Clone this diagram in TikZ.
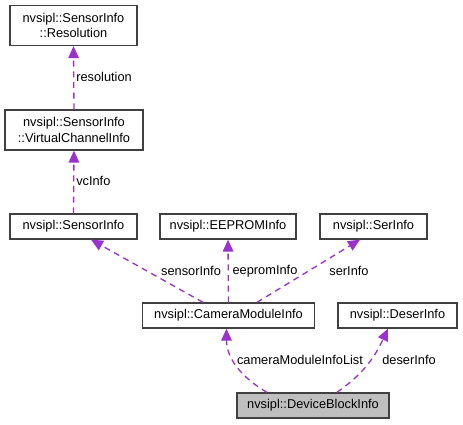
\documentclass[tikz,border=0pt]{standalone}
\usepackage{fontspec}
\setmainfont{Liberation Sans}
\usetikzlibrary{calc,positioning,arrows.meta}

\definecolor{edgepurple}{HTML}{9A32CD}
\definecolor{boxline}{HTML}{404040}
\definecolor{boxgray}{HTML}{BFBFBF}

\begin{document}
\begin{tikzpicture}[x=0.75pt,y=-0.75pt,
  font=\fontsize{9.6}{11.5}\selectfont,
  cls/.style={draw=boxline,line width=1pt,fill=white,inner sep=0pt,
    align=center,minimum height=18.75pt},
  tall/.style={minimum height=30pt},
  edge/.style={draw=edgepurple,line width=1pt,dash pattern=on 4.5pt off 3.5pt,
    -{Triangle[length=9pt,width=8pt,fill=edgepurple]}},
  lbl/.style={inner sep=0pt}
]
\useasboundingbox (0,0) rectangle (463,424);

% classes
\node[cls,tall,minimum width=95.25pt] (res) at (73.5,25.5) {nvsipl::SensorInfo\\::Resolution};
\node[cls,tall,minimum width=103.5pt] (vci) at (74,130) {nvsipl::SensorInfo\\::VirtualChannelInfo};
\node[cls,minimum width=95.25pt] (sens) at (73.5,226.5) {nvsipl::SensorInfo};
\node[cls,minimum width=102pt] (eeprom) at (228,226.5) {nvsipl::EEPROMInfo};
\node[cls,minimum width=80.25pt] (ser) at (373.5,226.5) {nvsipl::SerInfo};
\node[cls,minimum width=129pt] (cam) at (228.5,315.5) {nvsipl::CameraModuleInfo};
\node[cls,minimum width=89.25pt] (deser) at (397.5,315.5) {nvsipl::DeserInfo};
\node[cls,fill=boxgray,minimum width=114pt] (dev) at (313,405.5) {nvsipl::DeviceBlockInfo};

% members
\draw[edge] (vci.north) -- (res.south);
\draw[edge] (sens.north) -- (vci.south);
\draw[edge] ($(cam.north)+(-25.5,0)$) -- ($(sens.south)+(17.5,0)$);
\draw[edge] (cam.north) -- (eeprom.south);
\draw[edge] ($(cam.north)+(28.5,0)$) -- ($(ser.south)+(-13.5,0)$);
\draw[edge] ($(dev.north)+(-46,0)$) to[out=150,in=-90] ($(cam.south)+(-2,0)$);
\draw[edge] ($(dev.north)+(24,0)$) to[out=35,in=-115] ($(deser.south)+(-9.5,0)$);

% labels
\node[lbl,anchor=west] (lres) at (76,77) {resolution};
\node[lbl,anchor=west] (lvc) at (76,181) {vcInfo};
\node[lbl] (lsens) at (191,271) {sensorInfo};
\node[lbl] (leeprom) at (265,271) {eepromInfo};
\node[lbl] (lser) at (349,271) {serInfo};
\node[lbl] (lcam) at (300,360) {cameraModuleInfoList};
\node[lbl] (ldeser) at (409,360) {deserInfo};
\end{tikzpicture}
\end{document}
